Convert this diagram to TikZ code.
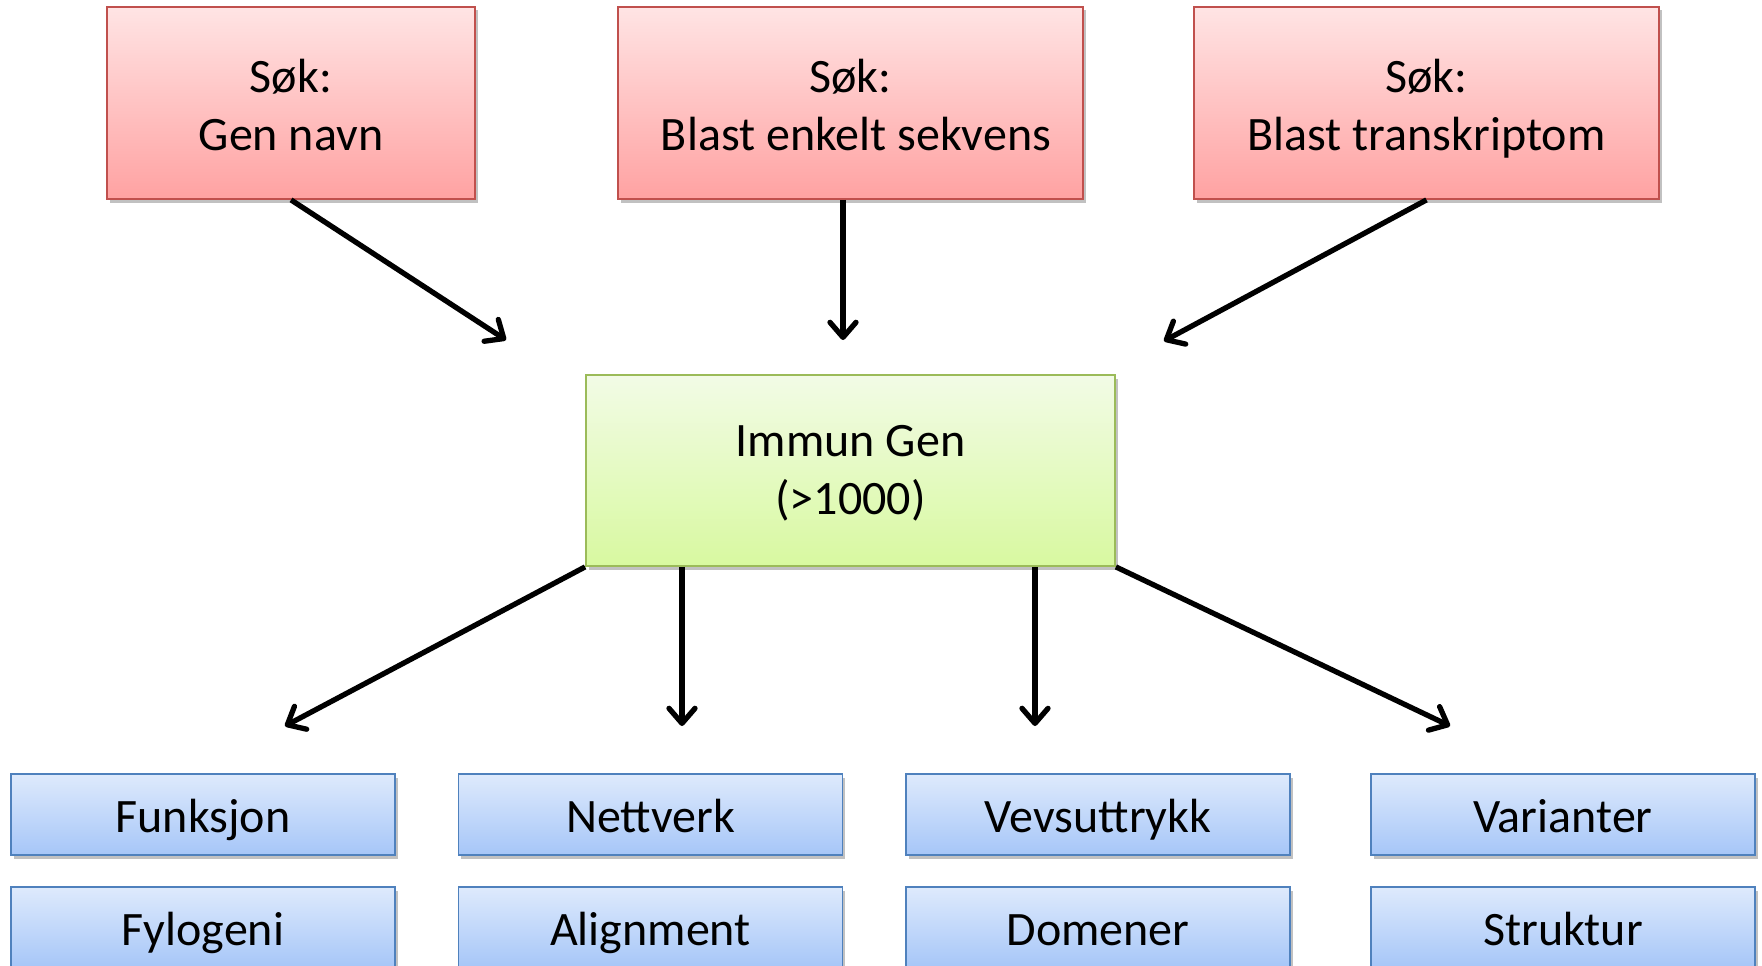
\documentclass[tikz,border=0pt]{standalone}
\usepackage{fontspec}
\setmainfont{Carlito}
\usetikzlibrary{arrows.meta,shadows,calc}
\definecolor{redtop}{RGB}{255,228,228}
\definecolor{redbot}{RGB}{255,162,162}
\definecolor{redline}{RGB}{192,80,77}
\definecolor{greentop}{RGB}{242,251,230}
\definecolor{greenbot}{RGB}{216,249,160}
\definecolor{greenline}{RGB}{155,187,89}
\definecolor{bluetop}{RGB}{222,234,252}
\definecolor{bluebot}{RGB}{166,198,248}
\definecolor{blueline}{RGB}{79,129,189}
\newcommand{\twolines}[2]{\begin{tabular}[t]{@{}c@{}}#1\\#2\end{tabular}}
\tikzset{
  box/.style={rectangle, line width=1.8pt, inner sep=0pt,
    font=\fontsize{48}{58}\selectfont,
    drop shadow={shadow xshift=2.5pt, shadow yshift=-3.5pt, opacity=0.35, fill=black!70}},
  redbox/.style={box, draw=redline, top color=redtop, bottom color=redbot,
    minimum height=192pt, text height=0pt, text depth=21pt},
  greenbox/.style={box, draw=greenline, top color=greentop, bottom color=greenbot,
    text height=0pt, text depth=28pt},
  bluebox/.style={box, draw=blueline, top color=bluetop, bottom color=bluebot,
    minimum width=384pt, minimum height=81pt, text height=35.4pt, text depth=0pt},
  conn/.style={line width=5.3pt, -{Straight Barb[length=15pt,width=26pt,round]}}
}
\begin{document}
\begin{tikzpicture}[x=1pt,y=-1pt]
\useasboundingbox (0,0) rectangle (1762,966);
\begin{scope}
\clip (0,0) rectangle (1762,966);
% top search boxes
\node[redbox, minimum width=368pt] (t1) at (291,103) {\twolines{Søk:}{Gen navn}};
\node[redbox, minimum width=465pt] (t2) at (850.5,103) {\twolines{Søk:}{\ Blast enkelt sekvens}};
\node[redbox, minimum width=465pt] (t3) at (1426.5,103) {\twolines{Søk:}{Blast transkriptom}};
% central box
\node[greenbox, minimum width=529pt, minimum height=191pt] (g) at (850.5,470.5) {\twolines{Immun Gen}{(>1000)}};
% bottom boxes
\node[bluebox] (b1) at (203,814.5) {Funksjon};
\node[bluebox] (b2) at (650.5,814.5) {Nettverk};
\node[bluebox] (b3) at (1098,814.5) {Vevsuttrykk};
\node[bluebox] (b4) at (1563,814.5) {Varianter};
\node[bluebox] (c1) at (203,927.5) {Fylogeni};
\node[bluebox] (c2) at (650.5,927.5) {Alignment};
\node[bluebox] (c3) at (1098,927.5) {Domener};
\node[bluebox] (c4) at (1563,927.5) {Struktur};
\end{scope}
% arrow end points
\coordinate (e1) at (506,340);
\coordinate (e2) at (843,340);
\coordinate (e3) at (1164,341);
\coordinate (f1) at (285,726);
\coordinate (f2) at (682,726);
\coordinate (f3) at (1035,726);
\coordinate (f4) at (1450,726);
% connectors
\draw[conn] (t1.south) -- (e1);
\draw[conn] (t2.south -| e2) -- (e2);
\draw[conn] (t3.south) -- (e3);
\draw[conn] (g.south west) -- (f1);
\draw[conn] (g.south -| f2) -- (f2);
\draw[conn] (g.south -| f3) -- (f3);
\draw[conn] (g.south east) -- (f4);
\end{tikzpicture}
\end{document}
